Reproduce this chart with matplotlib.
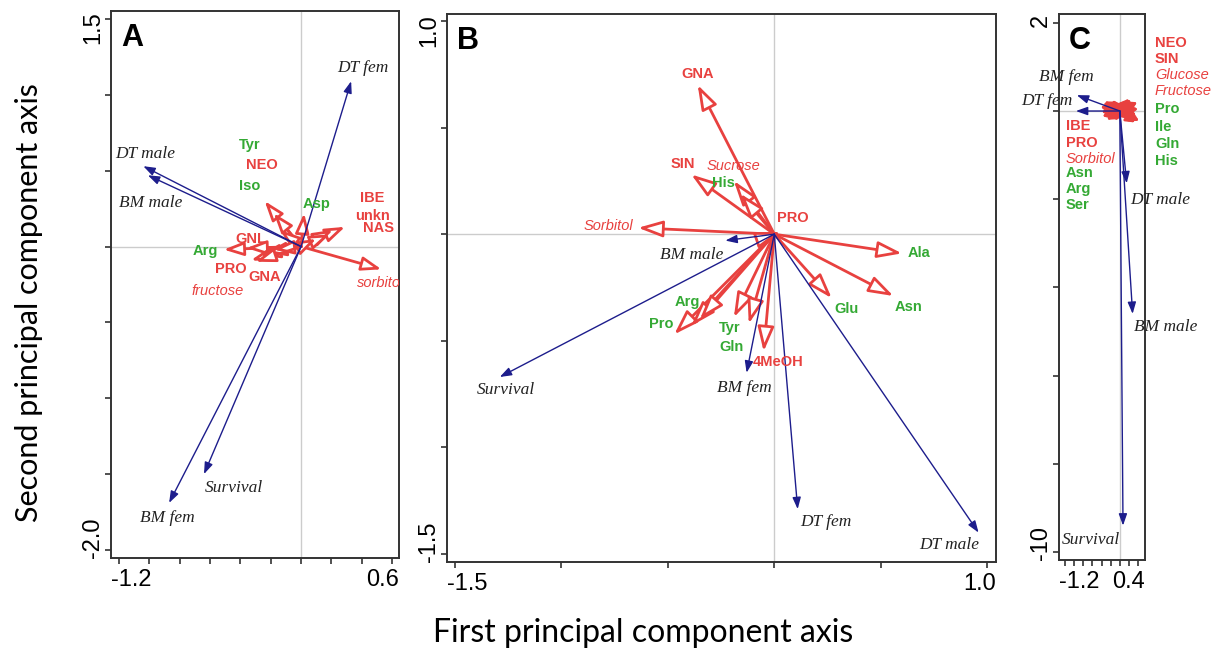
import matplotlib
matplotlib.use('Agg')
import matplotlib.pyplot as plt
from matplotlib.patches import FancyArrowPatch

RED = '#e8413f'
GREEN = '#34a934'
NAVY = '#1d1d8c'
TXT = '#222222'

# ---------------- Panel A ----------------
a_resp_names = ['DT fem', 'DT male', 'BM male', 'Survival', 'BM fem']
a_resp_x = [0.33, -1.04, -1.01, -0.64, -0.87]
a_resp_y = [1.09, 0.53, 0.47, -1.50, -1.69]
a_resp_lab_x = [0.41, -1.03, -0.99, -0.44, -0.88]
a_resp_lab_y = [1.18, 0.61, 0.29, -1.59, -1.79]

a_expl_x = [0.53, 0.29, 0.21, 0.19, 0.10, 0.02, -0.24, -0.18, -0.14,
            -0.51, -0.36, -0.33, -0.27, -0.23, -0.18, -0.30]
a_expl_y = [-0.15, 0.13, 0.11, 0.08, 0.05, 0.22, 0.30, 0.22, 0.11,
            -0.02, -0.01, -0.09, -0.06, -0.04, -0.02, -0.10]

a_lab = ['Tyr', 'NEO', 'Iso', 'Asp', 'IBE', 'unkn', 'NAS', 'sorbitol',
         'Arg', 'GNL', 'PRO', 'GNA', 'fructose']
a_lab_kind = ['amino', 'other', 'amino', 'amino', 'other', 'other', 'other', 'sugar',
              'amino', 'other', 'other', 'other', 'sugar']
a_lab_x = [-0.34, -0.26, -0.34, 0.10, 0.47, 0.47, 0.51, 0.37,
           -0.63, -0.33, -0.46, -0.24, -0.55]
a_lab_y = [0.67, 0.54, 0.40, 0.28, 0.32, 0.20, 0.12, -0.24,
           -0.03, 0.05, -0.15, -0.20, -0.29]

# ---------------- Panel B ----------------
b_resp_names = ['BM male', 'Survival', 'BM fem', 'DT fem', 'DT male']
b_resp_x = [-0.23, -1.29, -0.13, 0.11, 0.96]
b_resp_y = [-0.03, -0.67, -0.65, -1.29, -1.40]
b_resp_lab_x = [-0.39, -1.26, -0.14, 0.24, 0.82]
b_resp_lab_y = [-0.10, -0.73, -0.72, -1.35, -1.46]

b_expl_x = [-0.36, -0.39, -0.19, -0.16, -0.64, 0.03, 0.60, 0.56, 0.27,
            -0.47, -0.39, -0.35, -0.19, -0.12, -0.05]
b_expl_y = [0.70, 0.28, 0.25, 0.19, 0.03, 0.01, -0.09, -0.29, -0.30,
            -0.47, -0.43, -0.40, -0.39, -0.42, -0.55]

b_lab = ['GNA', 'SIN', 'Sucrose', 'His', 'Sorbitol', 'PRO', 'Ala', 'Asn', 'Glu',
         'Arg', 'Pro', 'Tyr', 'Gln', '4MeOH']
b_lab_kind = ['other', 'other', 'sugar', 'amino', 'sugar', 'other', 'amino', 'amino', 'amino',
              'amino', 'amino', 'amino', 'amino', 'other']
b_lab_x = [-0.36, -0.43, -0.19, -0.24, -0.78, 0.085, 0.68, 0.63, 0.34,
           -0.41, -0.53, -0.21, -0.20, 0.02]
b_lab_y = [0.75, 0.33, 0.32, 0.24, 0.04, 0.075, -0.09, -0.34, -0.35,
           -0.32, -0.42, -0.44, -0.53, -0.60]

# ---------------- Panel C ----------------
c_resp_names = ['BM fem', 'DT fem', 'DT male', 'BM male', 'Survival']
c_resp_x = [-0.94, -0.96, 0.15, 0.28, 0.07]
c_resp_y = [0.36, 0.0, -1.64, -4.6, -9.4]
c_resp_lab_x = [-1.16, -1.6, 0.88, 1.0, -0.64]
c_resp_lab_y = [0.77, 0.23, -2.02, -4.89, -9.73]

c_expl_x = [-0.42, -0.38, -0.33, -0.28, -0.22, -0.16, -0.10, 0.12, 0.18,
            0.24, 0.30, 0.36, 0.40, 0.42, 0.33, 0.20, -0.30, -0.40,
            -0.36, -0.25, 0.28, 0.38, 0.15, -0.20]
c_expl_y = [0.10, -0.12, 0.22, -0.20, 0.12, 0.25, -0.22, 0.20, -0.18,
            0.26, 0.14, -0.08, 0.05, -0.22, -0.26, 0.28, 0.0, -0.02,
            0.18, 0.04, 0.0, 0.20, -0.05, -0.10]

c_lab_left = ['IBE', 'PRO', 'Sorbitol', 'Asn', 'Arg', 'Ser']
c_lab_left_kind = ['other', 'other', 'sugar', 'amino', 'amino', 'amino']
c_lab_left_y = [-0.34, -0.73, -1.09, -1.41, -1.77, -2.14]
c_lab_right = ['NEO', 'SIN', 'Glucose', 'Fructose', 'Pro', 'Ile', 'Gln', 'His']
c_lab_right_kind = ['other', 'other', 'sugar', 'sugar', 'amino', 'amino', 'amino', 'amino']
c_lab_right_y = [1.55, 1.18, 0.82, 0.46, 0.05, -0.36, -0.75, -1.14]


def kind_style(kind):
    if kind == 'amino':
        return dict(color=GREEN, fontweight='bold', fontstyle='normal')
    if kind == 'sugar':
        return dict(color=RED, fontweight='normal', fontstyle='italic')
    return dict(color=RED, fontweight='bold', fontstyle='normal')


def red_arrow(ax, x, y, hl=1.3, hw=0.45, lw=2.0, fc='white'):
    p = FancyArrowPatch((0, 0), (x, y),
                        arrowstyle='-|>,head_length=%s,head_width=%s' % (hl, hw),
                        mutation_scale=10, lw=lw, ec=RED, fc=fc,
                        shrinkA=0, shrinkB=0, zorder=3)
    ax.add_patch(p)


def blue_arrow(ax, x, y):
    p = FancyArrowPatch((0, 0), (x, y),
                        arrowstyle='-|>,head_length=0.7,head_width=0.25',
                        mutation_scale=10, lw=1.0, ec=NAVY, fc=NAVY,
                        shrinkA=0, shrinkB=0, zorder=4)
    ax.add_patch(p)


def setup(ax, xlim, ylim, xticks, yticks, xl, yl, letter):
    ax.set_xlim(*xlim)
    ax.set_ylim(*ylim)
    ax.axhline(0, color='#cccccc', lw=1, zorder=0)
    ax.axvline(0, color='#cccccc', lw=1, zorder=0)
    ax.set_xticks(xticks)
    ax.set_yticks(yticks)
    ax.set_xticklabels([])
    ax.set_yticklabels([])
    ax.tick_params(direction='out', length=4, width=1.2, color='#333333')
    for s in ax.spines.values():
        s.set_color('#333333')
        s.set_linewidth(1.4)
    w = ax.get_position().width
    ax.text(0, -0.02, xl[0], transform=ax.transAxes, ha='left', va='top',
            fontsize=17, family='Liberation Sans')
    ax.text(1, -0.02, xl[1], transform=ax.transAxes, ha='right', va='top',
            fontsize=17, family='Liberation Sans')
    ax.text(-0.025 * 0.236 / w, 1.0, yl[0], transform=ax.transAxes,
            ha='right', va='top', rotation=90, fontsize=17, family='Liberation Sans')
    ax.text(-0.025 * 0.236 / w, 0.0, yl[1], transform=ax.transAxes,
            ha='right', va='bottom', rotation=90, fontsize=17, family='Liberation Sans')
    ax.text(0.035 * 0.236 / w, 0.978, letter, transform=ax.transAxes,
            ha='left', va='top', fontsize=22, fontweight='bold', family='Liberation Sans')


def resp_labels(ax, names, lx, ly):
    for n, x, y in zip(names, lx, ly):
        ax.text(x, y, n, ha='center', va='center', fontsize=12.5, fontstyle='italic',
                family='Liberation Serif', color=TXT, clip_on=False, zorder=5)


def expl_labels(ax, names, kinds, lx, ly, ha='center', fs=10.5, clip=False):
    for n, k, x, y in zip(names, kinds, lx, ly):
        ax.text(x, y, n, ha=ha, va='center', fontsize=fs, family='Liberation Sans',
                clip_on=clip, zorder=5, **kind_style(k))


fig = plt.figure(figsize=(12.2, 6.51), dpi=100)

# Panel A
axA = fig.add_axes([0.0910, 0.1429, 0.2361, 0.8402])
setup(axA, (-1.253, 0.646), (-2.053, 1.553),
      [-1.2 + 0.2 * i for i in range(10)], [1.5 - 0.5 * i for i in range(8)],
      ('-1.2', '0.6'), ('1.5', '-2.0'), 'A')
for x, y in zip(a_expl_x, a_expl_y):
    red_arrow(axA, x, y, hl=1.2, hw=0.42, lw=2.0)
for x, y in zip(a_resp_x, a_resp_y):
    blue_arrow(axA, x, y)
resp_labels(axA, a_resp_names, a_resp_lab_x, a_resp_lab_y)
for n, k, x, y in zip(a_lab, a_lab_kind, a_lab_x, a_lab_y):
    if n == 'sorbitol':
        axA.text(x, y, n, ha='left', va='center', fontsize=10.5, family='Liberation Sans',
                 clip_on=True, zorder=5, **kind_style(k))
    else:
        axA.text(x, y, n, ha='center', va='center', fontsize=10.5, family='Liberation Sans',
                 clip_on=False, zorder=5, **kind_style(k))

# Panel B
axB = fig.add_axes([0.3664, 0.1367, 0.4500, 0.8418])
setup(axB, (-1.538, 1.042), (-1.538, 1.033),
      [-1.5 + 0.5 * i for i in range(6)], [1.0 - 0.5 * i for i in range(6)],
      ('-1.5', '1.0'), ('1.0', '-1.5'), 'B')
for x, y in zip(b_expl_x, b_expl_y):
    red_arrow(axB, x, y, hl=1.5, hw=0.5, lw=2.0)
for x, y in zip(b_resp_x, b_resp_y):
    blue_arrow(axB, x, y)
resp_labels(axB, b_resp_names, b_resp_lab_x, b_resp_lab_y)
expl_labels(axB, b_lab, b_lab_kind, b_lab_x, b_lab_y)

# Panel C
axC = fig.add_axes([0.8680, 0.1398, 0.0705, 0.8387])
setup(axC, (-1.33, 0.55), (-10.18, 2.2),
      [-1.2 + 0.2 * i for i in range(9)], [2 - 2 * i for i in range(7)],
      ('-1.2', '0.4'), ('2', '-10'), 'C')
for x, y in zip(c_expl_x, c_expl_y):
    red_arrow(axC, x, y, hl=0.5, hw=0.3, lw=2.0, fc=RED)
for x, y in zip(c_resp_x, c_resp_y):
    blue_arrow(axC, x, y)
resp_labels(axC, c_resp_names, c_resp_lab_x, c_resp_lab_y)
expl_labels(axC, c_lab_left, c_lab_left_kind, [-1.18] * len(c_lab_left), c_lab_left_y, ha='left')
expl_labels(axC, c_lab_right, c_lab_right_kind, [0.77] * len(c_lab_right), c_lab_right_y, ha='left')

fig.text(0.527, 0.028, 'First principal component axis', ha='center', va='center',
         fontsize=23, family='Lato')
fig.text(0.024, 0.536, 'Second principal component axis', ha='center', va='center',
         rotation=90, fontsize=22, family='Lato')

fig.savefig('out.png', dpi=100)
